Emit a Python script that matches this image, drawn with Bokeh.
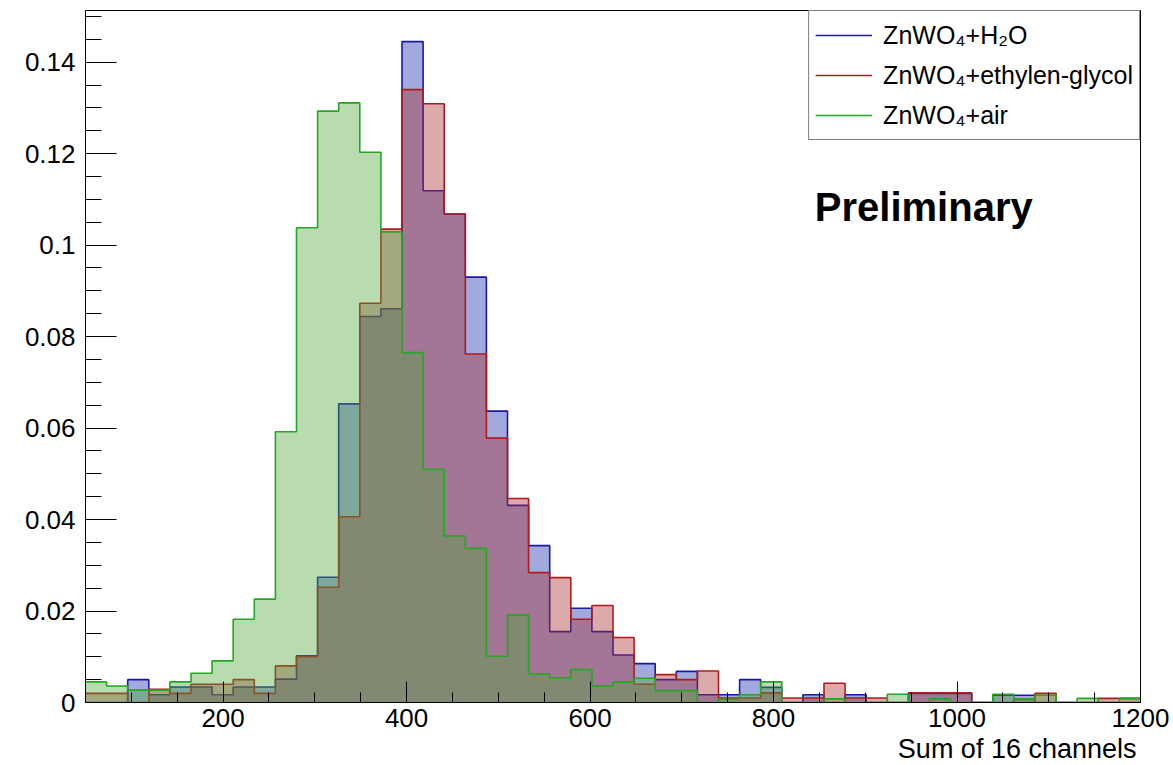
from bokeh.plotting import figure
from bokeh.models import (Range1d, SingleIntervalTicker, CustomJSTickFormatter,
                          Label, Legend, LegendItem, Title)
from bokeh.embed import file_html
from bokeh.resources import INLINE

# ---- data -------------------------------------------------------------
x_min = 50
bin_width = 23
n_bins = 50
edges = [x_min + bin_width * i for i in range(n_bins + 1)]

h2o = [0.0, 0.0, 0.0050, 0.0017, 0.0034, 0.0034, 0.0017, 0.0034, 0.0034, 0.0051,
       0.0102, 0.0274, 0.0653, 0.0844, 0.0861, 0.1445, 0.1119, 0.1068, 0.0930, 0.0637,
       0.0431, 0.0343, 0.0155, 0.0206, 0.0155, 0.0104, 0.0085, 0.0050, 0.0068, 0.0017,
       0.0017, 0.0050, 0.0033, 0.0, 0.0017, 0.0, 0.0017, 0.0, 0.0, 0.0020,
       0.0020, 0.0020, 0.0, 0.0016, 0.0016, 0.0, 0.0, 0.0, 0.0, 0.0]

glycol = [0.0020, 0.0020, 0.0, 0.0029, 0.0020, 0.0040, 0.0040, 0.0050, 0.0020, 0.0080,
          0.0100, 0.0252, 0.0406, 0.0873, 0.1035, 0.1340, 0.1309, 0.1068, 0.0762, 0.0578,
          0.0446, 0.0284, 0.0273, 0.0182, 0.0212, 0.0142, 0.0040, 0.0061, 0.0050, 0.0069,
          0.0010, 0.0010, 0.0021, 0.0010, 0.0010, 0.0042, 0.0010, 0.0010, 0.0, 0.0021,
          0.0021, 0.0021, 0.0, 0.0, 0.0008, 0.0020, 0.0, 0.0, 0.0009, 0.0009]

air = [0.0045, 0.0036, 0.0027, 0.0027, 0.0045, 0.0064, 0.0091, 0.0182, 0.0226, 0.0592,
       0.1038, 0.1293, 0.1311, 0.1203, 0.1029, 0.0765, 0.0510, 0.0364, 0.0337, 0.0101,
       0.0191, 0.0063, 0.0054, 0.0072, 0.0036, 0.0045, 0.0053, 0.0026, 0.0026, 0.0,
       0.0007, 0.0017, 0.0045, 0.0, 0.0, 0.0008, 0.0, 0.0, 0.0018, 0.0,
       0.0008, 0.0, 0.0, 0.0018, 0.0008, 0.0016, 0.0, 0.0009, 0.0, 0.0009]

labels = ["ZnWO\u2084+H\u2082O", "ZnWO\u2084+ethylen-glycol", "ZnWO\u2084+air"]
x_title = "Sum of 16 channels"
note = "Preliminary"

FONT = "Liberation Sans"

# ---- figure -----------------------------------------------------------
p = figure(width=1173, height=765, output_backend="svg", toolbar_location=None,
           x_range=Range1d(50, 1200), y_range=Range1d(0, 0.1513),
           min_border_left=85, min_border_right=33, min_border_top=10,
           min_border_bottom=63)
p.background_fill_color = "white"
p.border_fill_color = "white"
p.outline_line_color = "black"
p.outline_line_width = 1
p.xgrid.visible = False
p.ygrid.visible = False

series = [
    (h2o, "#1a1aa6", "#1428aa"),
    (glycol, "#b01c1c", "#a72a2a"),
    (air, "#22a822", "#4da739"),
]
items = []
for (vals, lc, fc), lab in zip(series, labels):
    yv = list(vals) + [vals[-1]]
    p.varea_step(x=edges, y1=[0] * len(edges), y2=yv, step_mode="after",
                 fill_color=fc, fill_alpha=0.4)
    r = p.step(x=edges, y=yv, mode="after", line_color=lc, line_width=1.6)
    items.append(LegendItem(label=lab, renderers=[r]))

# axes
xa = p.xaxis[0]
xa.ticker = SingleIntervalTicker(interval=200, num_minor_ticks=4)
xa.major_tick_in = 21
xa.major_tick_out = 0
xa.minor_tick_in = 10
xa.minor_tick_out = 0
xa.major_label_standoff = 6
ya = p.yaxis[0]
ya.ticker = SingleIntervalTicker(interval=0.02, num_minor_ticks=4)
ya.formatter = CustomJSTickFormatter(code="return Number(tick.toFixed(4)).toString();")
ya.major_tick_in = 31
ya.major_tick_out = 0
ya.minor_tick_in = 16
ya.minor_tick_out = 0
ya.major_label_standoff = 10
for ax in (xa, ya):
    ax.axis_line_color = "black"
    ax.major_tick_line_color = "black"
    ax.minor_tick_line_color = "black"
    ax.major_label_text_font = FONT
    ax.major_label_text_font_size = "26px"
    ax.major_label_text_color = "black"

# x axis title (right aligned, below tick labels)
p.add_layout(Title(text=x_title, align="right", offset=4, standoff=4,
                   text_font=FONT, text_font_size="27px", text_font_style="normal",
                   text_color="black"), "below")

# Preliminary
p.add_layout(Label(x=845, y=0.1083, text=note, text_align="left",
                   text_baseline="alphabetic", text_font=FONT,
                   text_font_size="40px", text_font_style="bold", text_color="black"))

legend = Legend(items=items, location="top_right", margin=0, padding=6, spacing=4,
                label_height=36, glyph_height=20, glyph_width=57, label_standoff=11,
                label_text_font=FONT, label_text_font_size="25px",
                label_text_color="black",
                border_line_color="black", border_line_width=1,
                background_fill_color="white", background_fill_alpha=1.0)
p.add_layout(legend)

open("out.html", "w").write(file_html(p, INLINE))
